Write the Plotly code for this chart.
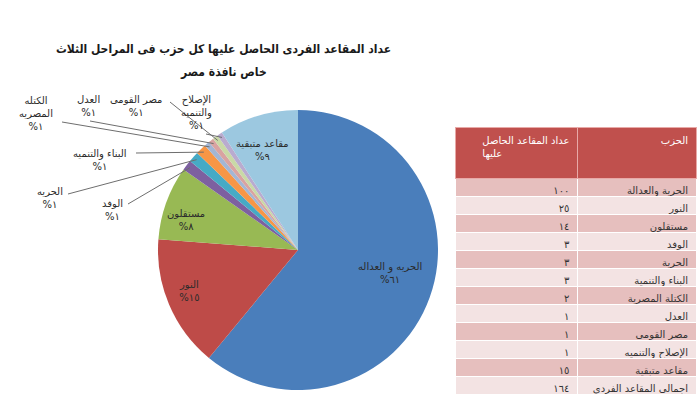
import math
import plotly.graph_objects as go

# ---------------- data ----------------
pie_labels = ["الحريه و العداله", "النور", "مستقلون", "الوفد", "الحريه", "البناء والتنميه",
              "الكتله المصريه", "العدل", "مصر القومى", "الإصلاح والتنميه", "مقاعد متبقية"]
pie_values = [100, 25, 14, 2, 2, 2, 1, 1, 1, 1, 15]
pie_pct_text = ["%٦١", "%١٥", "%٨", "%١", "%١", "%١", "%١", "%١", "%١", "%١", "%٩"]
pie_colors = ["#4A7EBB", "#BE4B48", "#98B954", "#7D60A0", "#46AAC5", "#F79646",
              "#A3B6D4", "#D9A3A1", "#C9D9A6", "#B9ABCF", "#9CC8E0"]

table_header = ["عداد المقاعد الحاصل<br>عليها", "<br>الحزب"]
table_parties = ["الحرية والعدالة", "النور", "مستقلون", "الوفد", "الحرية", "البناء والتنمية",
                 "الكتلة المصرية", "العدل", "مصر القومى", "الإصلاح والتنميه", "مقاعد متبقية",
                 "اجمالى المقاعد الفردى"]
table_counts = ["١٠٠", "٢٥", "١٤", "٣", "٣", "٣", "٢", "١", "١", "١", "١٥", "١٦٤"]

title_lines = ["عداد المقاعد الفردى الحاصل عليها كل حزب فى المراحل الثلاث", "خاص نافذة مصر"]

# ---------------- layout geometry ----------------
W, H = 700, 400
CX, CY, R = 298, 250, 140          # pie centre / radius in pixels


def px(x):
    return x / W


def py(y):
    return 1 - y / H


FONT = "DejaVu Sans"
TXT = "#2b2b2b"

fig = go.Figure()

fig.add_trace(go.Pie(
    labels=pie_labels, values=pie_values, sort=False, direction="clockwise", rotation=0,
    marker=dict(colors=pie_colors, line=dict(width=0)),
    textinfo="none", hoverinfo="label+value+percent", showlegend=False,
    domain=dict(x=[px(CX - R), px(CX + R)], y=[py(CY + R), py(CY - R)]),
))

row_colors = ["#E6BFBE" if i % 2 == 0 else "#F3E3E3" for i in range(len(table_parties))]
fig.add_trace(go.Table(
    domain=dict(x=[px(455), px(697)], y=[0, py(127)]),
    columnwidth=[123, 119],
    header=dict(values=table_header, fill_color="#C0504D", align="right",
                font=dict(family=FONT, size=10, color="white"), height=51,
                line=dict(color="#E8A9A7", width=1)),
    cells=dict(values=[table_counts, table_parties], fill_color=[row_colors, row_colors],
               align="right", font=dict(family=FONT, size=10, color="#333333"), height=18,
               line=dict(color="white", width=1)),
))

annotations = []
shapes = []

# title (two lines)
for line_text, ty in zip(title_lines, [49, 72]):
    annotations.append(dict(text="<b>" + line_text + "</b>", x=px(223), y=py(ty), xref="paper",
                            yref="paper", showarrow=False, xanchor="center", yanchor="middle",
                            font=dict(family="DejaVu Sans Condensed, DejaVu Sans", size=12,
                                      color="#1a1a1a")))

# inside labels (label, pct) -> position
inside_pos = {0: (390, 273), 1: (190, 291), 2: (186, 220), 10: (262, 150)}
for i, (x, y) in inside_pos.items():
    annotations.append(dict(text=pie_labels[i] + "<br>" + pie_pct_text[i], x=px(x), y=py(y),
                            xref="paper", yref="paper", showarrow=False, xanchor="center",
                            yanchor="middle", font=dict(family=FONT, size=10, color=TXT)))

# outside labels: index -> (label centre x, y, leader start x, y)
outside = {
    3: (112, 210, 128, 204),
    4: (50, 198, 68, 194),
    5: (100, 160, 136, 153),
    6: (36, 114, 62, 122),
    7: (88, 106, 90, 121),
    8: (136, 106, 170, 102),
    9: (196, 112, 206, 134),
}
total = sum(pie_values)
cum = 0
mids = []
for v in pie_values:
    mids.append((cum + v / 2) / total * 2 * math.pi)
    cum += v

for i, (lx, ly, sx, sy) in outside.items():
    if i == 6:
        text = "الكتله<br>المصريه<br>" + pie_pct_text[i]
    elif i == 9:
        text = "الإصلاح<br>والتنميه<br>" + pie_pct_text[i]
    else:
        text = pie_labels[i] + "<br>" + pie_pct_text[i]
    annotations.append(dict(text=text, x=px(lx), y=py(ly), xref="paper", yref="paper",
                            showarrow=False, xanchor="center", yanchor="middle",
                            font=dict(family=FONT, size=10, color=TXT)))
    a = mids[i]
    ex = CX + R * 0.97 * math.sin(a)
    ey = CY - R * 0.97 * math.cos(a)
    shapes.append(dict(type="line", xref="paper", yref="paper", x0=px(sx), y0=py(sy),
                       x1=px(ex), y1=py(ey), line=dict(color="#6e6e6e", width=1)))

fig.update_layout(
    width=W, height=H, margin=dict(l=0, r=0, t=0, b=0),
    paper_bgcolor="white", plot_bgcolor="white",
    annotations=annotations, shapes=shapes,
    font=dict(family=FONT),
)

fig.write_html("out.html", config={"displayModeBar": False},
               post_script="document.body.style.margin='0';document.body.style.overflow='hidden';")
